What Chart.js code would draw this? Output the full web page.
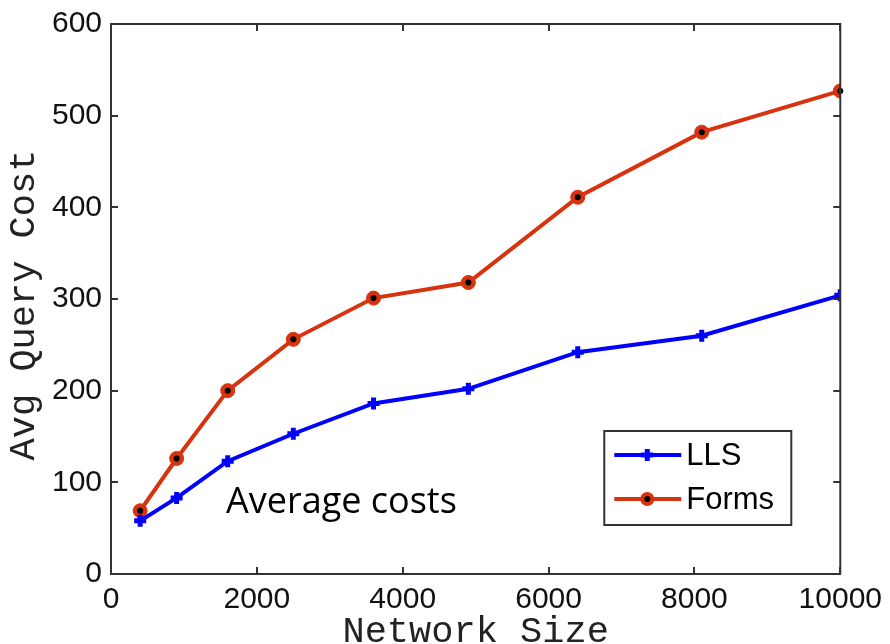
<!DOCTYPE html>
<html lang="en">
<head>
    <meta charset="UTF-8">
    <title>Avg Query Cost</title>
    <script src="https://cdn.jsdelivr.net/npm/chart.js"></script>
    <style>
        body { margin: 0; background: #fff; }
        #grafico { display: block; }
    </style>
</head>
<body>
<canvas id="grafico" width="890" height="644"></canvas>
<script>
    // datos
    const tamanos = [400, 900, 1600, 2500, 3600, 4900, 6400, 8100, 10000];
    const costeLLS = [58, 83, 123, 153, 186, 202, 242, 260, 304];
    const costeForms = [69, 126, 200, 256, 301, 318, 411, 482, 527];
    const ticksX = [0, 2000, 4000, 6000, 8000, 10000];
    const ticksY = [0, 100, 200, 300, 400, 500, 600];

    const azul = '#0000ff';
    const rojo = '#d8330f';
    const ejeColor = '#333333';

    function puntos(valores) {
        return tamanos.map((x, i) => ({ x: x, y: valores[i] }));
    }

    // ticks hacia dentro, marco, titulos, leyenda y texto
    const decorado = {
        id: 'decorado',
        afterDatasetsDraw(chart) {
            const ctx = chart.ctx;
            // puntos negros de Forms
            const meta = chart.getDatasetMeta(1);
            ctx.save();
            ctx.fillStyle = '#000';
            meta.data.forEach(p => {
                ctx.beginPath();
                ctx.arc(p.x, p.y, 3, 0, Math.PI * 2);
                ctx.fill();
            });
            ctx.restore();
        },
        afterDraw(chart) {
            const ctx = chart.ctx;
            const a = chart.chartArea;
            const sx = chart.scales.x;
            const sy = chart.scales.y;
            ctx.save();
            ctx.strokeStyle = ejeColor;
            ctx.lineWidth = 2;
            ctx.beginPath();
            ctx.moveTo(a.left, a.top);
            ctx.lineTo(a.right, a.top);
            ctx.lineTo(a.right, a.bottom);
            ctx.stroke();

            const largo = 7;
            ctx.beginPath();
            ticksX.forEach(v => {
                const px = Math.round(sx.getPixelForValue(v));
                ctx.moveTo(px, a.bottom);
                ctx.lineTo(px, a.bottom - largo);
                ctx.moveTo(px, a.top);
                ctx.lineTo(px, a.top + largo);
            });
            ticksY.forEach(v => {
                const py = Math.round(sy.getPixelForValue(v));
                ctx.moveTo(a.left, py);
                ctx.lineTo(a.left + largo, py);
                ctx.moveTo(a.right, py);
                ctx.lineTo(a.right - largo, py);
            });
            ctx.stroke();

            // titulos de ejes
            ctx.fillStyle = '#222';
            ctx.font = '37px "Liberation Mono"';
            ctx.textAlign = 'center';
            ctx.textBaseline = 'middle';
            ctx.fillText('Network Size', (a.left + a.right) / 2, 632);
            ctx.save();
            ctx.translate(24, 305);
            ctx.rotate(-Math.PI / 2);
            ctx.fillText('Avg Query Cost', 0, 0);
            ctx.restore();

            // texto anadido
            ctx.fillStyle = '#000';
            ctx.font = '36px "Open Sans"';
            ctx.textAlign = 'left';
            ctx.textBaseline = 'alphabetic';
            ctx.fillText('Average costs', 226, 513);

            // leyenda
            const bx = a.right - 236, by = a.bottom - 143, bw = 187, bh = 94;
            ctx.fillStyle = '#fff';
            ctx.fillRect(bx, by, bw, bh);
            ctx.strokeStyle = ejeColor;
            ctx.lineWidth = 2;
            ctx.strokeRect(bx, by, bw, bh);

            const filas = [
                { txt: 'LLS', color: azul, y: by + 24 },
                { txt: 'Forms', color: rojo, y: by + 68 }
            ];
            ctx.font = '31px "Liberation Sans"';
            ctx.textBaseline = 'middle';
            filas.forEach((f, i) => {
                ctx.strokeStyle = f.color;
                ctx.lineWidth = 4;
                ctx.beginPath();
                ctx.moveTo(bx + 10, f.y);
                ctx.lineTo(bx + 77, f.y);
                ctx.stroke();
                const cx = bx + 43;
                if (i === 0) {
                    ctx.lineWidth = 5;
                    ctx.beginPath();
                    ctx.moveTo(cx - 6, f.y); ctx.lineTo(cx + 6, f.y);
                    ctx.moveTo(cx, f.y - 6); ctx.lineTo(cx, f.y + 6);
                    ctx.stroke();
                } else {
                    ctx.fillStyle = rojo;
                    ctx.beginPath(); ctx.arc(cx, f.y, 7, 0, Math.PI * 2); ctx.fill();
                    ctx.fillStyle = '#000';
                    ctx.beginPath(); ctx.arc(cx, f.y, 3, 0, Math.PI * 2); ctx.fill();
                }
                ctx.fillStyle = '#000';
                ctx.fillText(f.txt, bx + 82, f.y + 1);
            });
            ctx.restore();
        }
    };

    const fuenteX = { family: '"Liberation Sans", Arial', size: 30 };
    const fuenteY = { family: '"Liberation Sans", Arial', size: 30, lineHeight: 1 };

    new Chart(document.getElementById('grafico'), {
        type: 'line',
        data: {
            datasets: [{
                label: 'LLS',
                data: puntos(costeLLS),
                borderColor: azul,
                backgroundColor: azul,
                borderWidth: 4,
                pointStyle: 'cross',
                pointRadius: 6,
                pointBorderWidth: 5,
                pointBorderColor: azul,
                tension: 0
            }, {
                label: 'Forms',
                data: puntos(costeForms),
                borderColor: rojo,
                backgroundColor: rojo,
                borderWidth: 4,
                pointStyle: 'circle',
                pointRadius: 7,
                pointBorderWidth: 1,
                pointBorderColor: rojo,
                tension: 0
            }]
        },
        options: {
            responsive: false,
            animation: false,
            layout: { padding: { top: 24, right: 49, left: 0, bottom: 0 } },
            plugins: {
                legend: { display: false },
                tooltip: { enabled: false }
            },
            scales: {
                x: {
                    type: 'linear',
                    min: 0,
                    max: 10000,
                    afterBuildTicks: s => { s.ticks = ticksX.map(v => ({ value: v })); },
                    afterFit: s => { s.height = 70; },
                    grid: { display: false, drawTicks: false },
                    border: { display: true, color: ejeColor, width: 2 },
                    ticks: {
                        font: fuenteX, color: '#111', padding: 8, maxRotation: 0, autoSkip: false,
                        callback: v => String(v)
                    }
                },
                y: {
                    min: 0,
                    max: 600,
                    afterBuildTicks: s => { s.ticks = ticksY.map(v => ({ value: v })); },
                    afterFit: s => { s.width = 111; },
                    grid: { display: false, drawTicks: false },
                    border: { display: true, color: ejeColor, width: 2 },
                    ticks: { font: fuenteY, color: '#111', padding: 9, callback: v => String(v) }
                }
            }
        },
        plugins: [decorado]
    });
</script>
</body>
</html>
